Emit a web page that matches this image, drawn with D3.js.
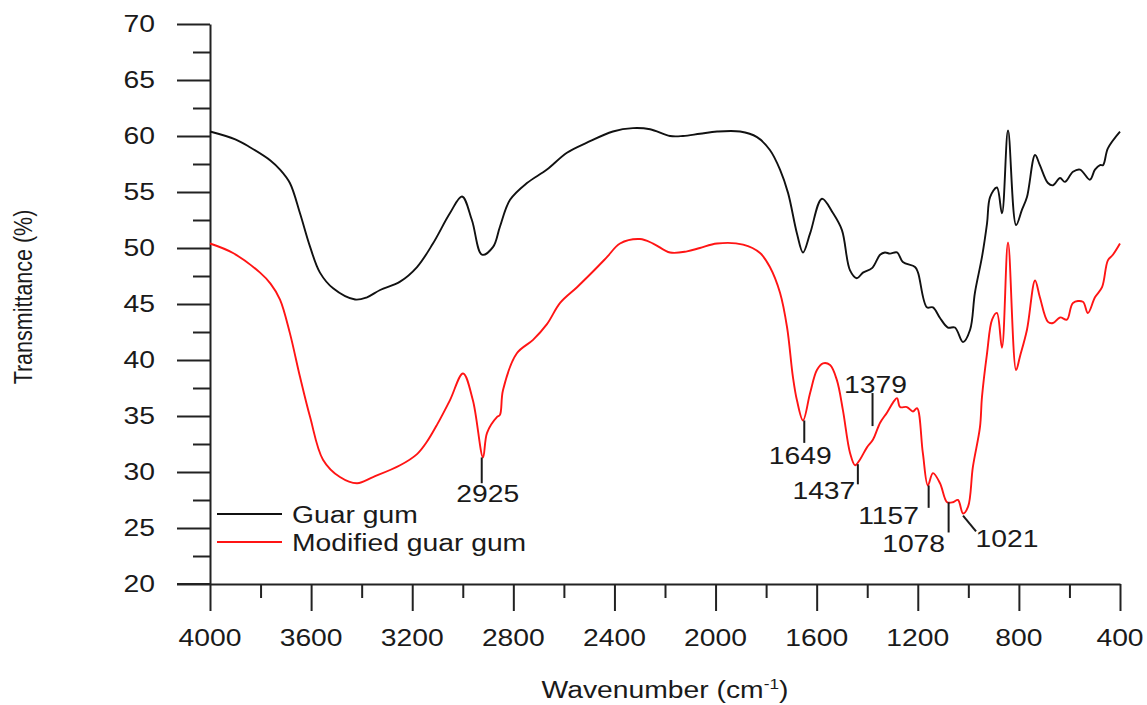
<!DOCTYPE html>
<meta charset="utf-8">
<script src="https://d3js.org/d3.v7.min.js"></script>
<style>
  body { margin: 0; background: #fff; }
  text { font-family: "Liberation Sans", Arial, sans-serif; fill: #1a1a1a; }
</style>
<div id="chart"></div>
<script>

// ---- data ----
var guarWn = [4000,3900,3842,3760,3723,3684,3644,3604,3565,3513,3426,3379,3327,3248,3181,3118,3051,3003,2964,2924,2880,2853,2813,2746,2667,2588,2509,2406,2327,2259,2180,2129,2062,1994,1903,1836,1785,1745,1713,1678,1654,1626,1579,1535,1500,1468,1441,1417,1381,1349,1330,1310,1282,1259,1211,1199,1164,1140,1112,1081,1053,1021,993,974,946,926,914,887,867,843,811,788,768,736,717,685,665,637,618,586,558,519,499,479,467,448,400];
var guarT  = [60.4,59.7,59.0,57.8,57.0,55.8,53.1,50.1,47.8,46.4,45.4,45.6,46.25,47.0,48.3,50.4,53.1,54.6,52.5,49.4,50.1,51.9,54.3,55.8,57.0,58.5,59.4,60.4,60.7,60.6,60.0,60.0,60.2,60.4,60.4,59.9,58.75,57.0,54.9,51.3,49.6,51.3,54.4,53.1,51.6,48.0,47.3,47.8,48.2,49.4,49.6,49.5,49.6,48.75,48.3,47.8,44.7,44.7,43.75,42.9,42.9,41.6,42.7,46.0,49.2,52.2,54.55,55.4,53.1,60.5,52.05,53.4,54.55,58.3,57.4,55.8,55.6,56.25,55.9,56.8,57.0,56.1,57.0,57.4,57.4,58.9,60.4];

var modWn = [4000,3909,3802,3760,3723,3684,3644,3604,3553,3486,3418,3355,3248,3181,3142,3100,3051,2999,2960,2920,2904,2865,2853,2841,2786,2722,2667,2615,2548,2485,2429,2378,2299,2247,2180,2113,2062,1994,1891,1824,1785,1745,1717,1694,1678,1654,1626,1599,1575,1547,1520,1496,1468,1448,1429,1401,1377,1349,1322,1298,1282,1270,1243,1219,1203,1180,1160,1140,1112,1084,1061,1041,1021,1001,982,954,946,926,906,887,867,843,811,796,768,736,717,685,665,637,610,586,547,527,499,471,448,428,400];
var modT  = [50.4,49.55,47.8,46.8,45.4,42.4,38.5,34.9,31.1,29.55,29.0,29.55,30.6,31.6,32.7,34.3,36.4,38.8,36.4,31.3,33.5,34.9,35.1,37.3,40.6,41.8,43.2,45.1,46.5,47.9,49.2,50.4,50.8,50.4,49.6,49.7,50.0,50.4,50.3,49.55,48.3,46.0,42.9,38.5,36.4,34.6,37.05,39.1,39.7,39.55,38.2,35.5,31.7,30.6,31.1,32.2,32.9,34.4,35.3,36.2,36.6,35.8,35.8,35.4,35.7,31.7,28.8,29.9,29.0,27.3,27.3,27.5,26.3,26.9,30.45,34.0,36.7,40.6,43.6,44.2,41.1,50.5,39.1,40.3,42.7,47.1,45.6,43.4,43.3,43.8,43.6,45.1,45.2,44.2,45.6,46.5,48.9,49.4,50.4];

var seriesNames = ["Guar gum", "Modified guar gum"];
var seriesColors = ["#111111", "#ff1414"];

var xMajor = [4000,3600,3200,2800,2400,2000,1600,1200,800,400];
var yMajor = [20,25,30,35,40,45,50,55,60,65,70];

// peak labels: wavenumber, top and bottom of the marker (in %T)
var peakWn  = [2925, 1649, 1379, 1437, 1157, 1078, 1021];
var peakTop = [31.3, 34.6, 37.05, 30.7, 28.8, 27.3, 26.1];
var peakBot = [29.0, 32.6, 34.1, 28.9, 26.8, 24.6, 24.7];

// ---- layout ----
var W = 1147, H = 705;
var sx = 1.23; // text is drawn horizontally stretched like the source
var svg = d3.select("#chart").append("svg")
    .attr("width", W).attr("height", H);

var x = d3.scaleLinear().domain([4000, 400]).range([210, 1120]);
var y = d3.scaleLinear().domain([20, 70]).range([584, 24]);

function label(g, px, py, str, anchor) {
  return g.append("text")
    .attr("transform", "translate(" + px + "," + py + ") scale(" + sx + ",1)")
    .attr("text-anchor", anchor || "middle")
    .style("font-size", "23px")
    .text(str);
}

// Y axis: major + minor
svg.append("g")
    .attr("transform", "translate(210,0)")
    .call(d3.axisLeft(y).tickValues(d3.range(22.5, 70, 5)).tickSize(17).tickFormat(""))
    .call(g => g.select(".domain").remove());
svg.append("g")
    .attr("transform", "translate(210,0)")
    .call(d3.axisLeft(y).tickValues(yMajor).tickSize(33).tickSizeOuter(0).tickFormat(""));

// X axis: major + minor
svg.append("g")
    .attr("transform", "translate(0,584)")
    .call(d3.axisBottom(x).tickValues(d3.range(3800, 400, -400)).tickSize(14).tickFormat(""))
    .call(g => g.select(".domain").remove());
svg.append("g")
    .attr("transform", "translate(0,584)")
    .call(d3.axisBottom(x).tickValues(xMajor).tickSize(27).tickSizeOuter(0).tickFormat(""));

// extend x axis line to the left major tick end
svg.append("line")
    .attr("x1", 177).attr("x2", 210)
    .attr("y1", y(20)).attr("y2", y(20))
    .attr("stroke", "#222").attr("stroke-width", 2);

svg.selectAll(".domain, .tick line")
    .attr("stroke", "#222").attr("stroke-width", 2);

// tick labels
var lab = svg.append("g");
yMajor.forEach(function(v) { label(lab, 155, y(v) + 8, v, "end"); });
xMajor.forEach(function(v) { label(lab, x(v), 646, v, "middle"); });

// axis titles
var xt = label(lab, 665, 698, "", "middle");
xt.append("tspan").text("Wavenumber (cm");
xt.append("tspan").attr("dy", -9).style("font-size", "14px").text("-1");
xt.append("tspan").attr("dy", 9).text(")");

svg.append("text")
    .attr("transform", "translate(32,297) rotate(-90) scale(1,1.2)")
    .attr("text-anchor", "middle")
    .style("font-size", "21.5px")
    .text("Transmittance (%)");

// spectra
var line = d3.line()
    .x(d => x(d[0]))
    .y(d => y(d[1]))
    .curve(d3.curveCatmullRom.alpha(0.5));

var guar = guarWn.map((w, i) => [w, guarT[i]]);
var mod = modWn.map((w, i) => [w, modT[i]]);

[guar, mod].forEach(function(data, i) {
  svg.append("path")
      .datum(data)
      .attr("fill", "none")
      .attr("stroke", seriesColors[i])
      .attr("stroke-width", 1.9)
      .attr("stroke-linejoin", "round")
      .attr("d", line);
});

// legend
seriesNames.forEach(function(name, i) {
  var ly = 514 + i * 28;
  svg.append("line")
      .attr("x1", 217).attr("x2", 282)
      .attr("y1", ly).attr("y2", ly)
      .attr("stroke", seriesColors[i]).attr("stroke-width", 1.8);
  label(svg, 292, ly + 9, name, "start");
});

// peak markers
var labelOffset = [[6, 19], [-4, 21], [3, 0], [-34, 15], [-40, 16], [-35, 20], [44, 16]];
peakWn.forEach(function(w, i) {
  var px = x(w);
  var x2 = i === 6 ? px + 13 : px;
  svg.append("line")
      .attr("x1", px).attr("x2", x2)
      .attr("y1", y(peakTop[i])).attr("y2", y(peakBot[i]))
      .attr("stroke", "#1a1a1a").attr("stroke-width", 2);
  var ly = (i === 2) ? y(peakTop[i]) : y(peakBot[i]);
  label(svg, px + labelOffset[i][0], ly + labelOffset[i][1], w, "middle");
});

</script>
